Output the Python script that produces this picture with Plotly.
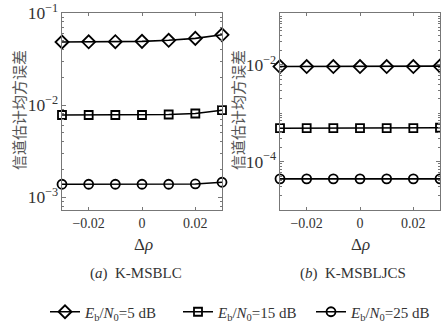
import plotly.graph_objects as go

x_vals = [-0.03, -0.02, -0.01, 0.0, 0.01, 0.02, 0.03]

# (a) K-MSBLC
a_5dB = [0.0484, 0.0486, 0.0488, 0.0492, 0.0505, 0.0530, 0.0580]
a_15dB = [0.0078, 0.0078, 0.0078, 0.0078, 0.0079, 0.0081, 0.0088]
a_25dB = [0.00138, 0.00138, 0.00138, 0.00138, 0.00138, 0.00139, 0.00145]

# (b) K-MSBLJCS
b_5dB = [0.0092, 0.0092, 0.0092, 0.0092, 0.0092, 0.0092, 0.0094]
b_15dB = [0.00049, 0.00049, 0.00049, 0.00049, 0.00049, 0.00049, 0.00050]
b_25dB = [4.4e-5, 4.4e-5, 4.4e-5, 4.4e-5, 4.4e-5, 4.4e-5, 4.4e-5]

series_names = [
    "<i>E</i><sub>b</sub>/<i>N</i><sub>0</sub>=5 dB",
    "<i>E</i><sub>b</sub>/<i>N</i><sub>0</sub>=15 dB",
    "<i>E</i><sub>b</sub>/<i>N</i><sub>0</sub>=25 dB",
]
symbols = ["diamond-open", "square-open", "circle-open"]
msizes = [10, 8, 9]

x_ticks = [-0.02, 0, 0.02]
x_ticklabels = ["\u22120.02", "0", "0.02"]
subtitles = ["(<i>a</i>)  K-MSBLC", "(<i>b</i>)  K-MSBLJCS"]
y_title = "信道估计均方误差"

SERIF = "Liberation Serif"
CJK = "Noto Sans CJK SC"
TXT = "#333333"
AX = "#777777"

legend_ids = ["legend", "legend2", "legend3"]
legend_x_px = [45, 178, 311]

fig = go.Figure()
panel_a = [a_5dB, a_15dB, a_25dB]
panel_b = [b_5dB, b_15dB, b_25dB]
for i in range(3):
    fig.add_trace(go.Scatter(
        x=x_vals, y=panel_a[i], mode="lines+markers", name=series_names[i],
        line=dict(color="black", width=1.6),
        marker=dict(symbol=symbols[i], size=msizes[i], color="black",
                    line=dict(width=1.8, color="black")),
        xaxis="x", yaxis="y", cliponaxis=False, showlegend=True,
        legend=legend_ids[i]))
for i in range(3):
    fig.add_trace(go.Scatter(
        x=x_vals, y=panel_b[i], mode="lines+markers", name=series_names[i],
        line=dict(color="black", width=1.6),
        marker=dict(symbol=symbols[i], size=msizes[i], color="black",
                    line=dict(width=1.8, color="black")),
        xaxis="x2", yaxis="y2", cliponaxis=False, showlegend=False))

xcommon = dict(range=[-0.03, 0.03], tickvals=x_ticks, ticktext=x_ticklabels,
               ticks="inside", ticklen=3, tickcolor=AX, showline=True,
               linecolor=AX, linewidth=1, mirror="ticks", showgrid=False,
               zeroline=False, tickfont=dict(family=SERIF, size=14, color=TXT))
ycommon = dict(type="log", ticks="inside", ticklen=4, tickcolor=AX,
               showline=True, linecolor=AX, linewidth=1, mirror="ticks",
               showgrid=False, zeroline=False, exponentformat="power",
               tickfont=dict(family=SERIF, size=14, color=TXT),
               minor=dict(ticks="inside", ticklen=2, tickcolor=AX, dtick="D1", showgrid=False))

layout_legends = {}
for lid, lx in zip(legend_ids, legend_x_px):
    layout_legends[lid] = dict(orientation="h", x=lx/441, xanchor="left", y=1-312/325,
                               yanchor="middle", font=dict(family=SERIF, size=15, color=TXT),
                               bgcolor="rgba(0,0,0,0)", itemwidth=30, borderwidth=0)

fig.update_layout(
    width=441, height=325,
    margin=dict(l=0, r=0, t=0, b=0, pad=0, autoexpand=False),
    paper_bgcolor="white", plot_bgcolor="white",
    xaxis=dict(domain=[62/441, 222/441], anchor="y", **xcommon),
    xaxis2=dict(domain=[280/441, 440/441], anchor="y2", **xcommon),
    yaxis=dict(domain=[1-210/325, 1-13/325], anchor="x", range=[-3.14, -1],
               dtick=1, **ycommon),
    yaxis2=dict(domain=[1-210/325, 1-13/325], anchor="x2", range=[-5.0, -0.93],
                dtick=2, **ycommon),
    showlegend=True,
    **layout_legends,
)

annotations = []
# y titles
for xc in [18, 237]:
    annotations.append(dict(text=y_title, x=xc/441, y=1-110/325, xref="paper", yref="paper",
                            textangle=-90, showarrow=False, xanchor="center", yanchor="middle",
                            font=dict(family=CJK, size=15, color="#555555")))
# x titles
for xc in [143, 360]:
    annotations.append(dict(text="Δ<i>ρ</i>", x=xc/441, y=1-244/325, xref="paper", yref="paper",
                            showarrow=False, xanchor="center", yanchor="middle",
                            font=dict(family=SERIF, size=17, color=TXT)))
for xc, t in zip([135.5, 352.5], subtitles):
    annotations.append(dict(text=t, x=xc/441, y=1-273/325, xref="paper", yref="paper",
                            showarrow=False, xanchor="center", yanchor="middle",
                            font=dict(family=SERIF, size=15, color=TXT)))
fig.update_layout(annotations=annotations)

fig.write_html("out.html")
